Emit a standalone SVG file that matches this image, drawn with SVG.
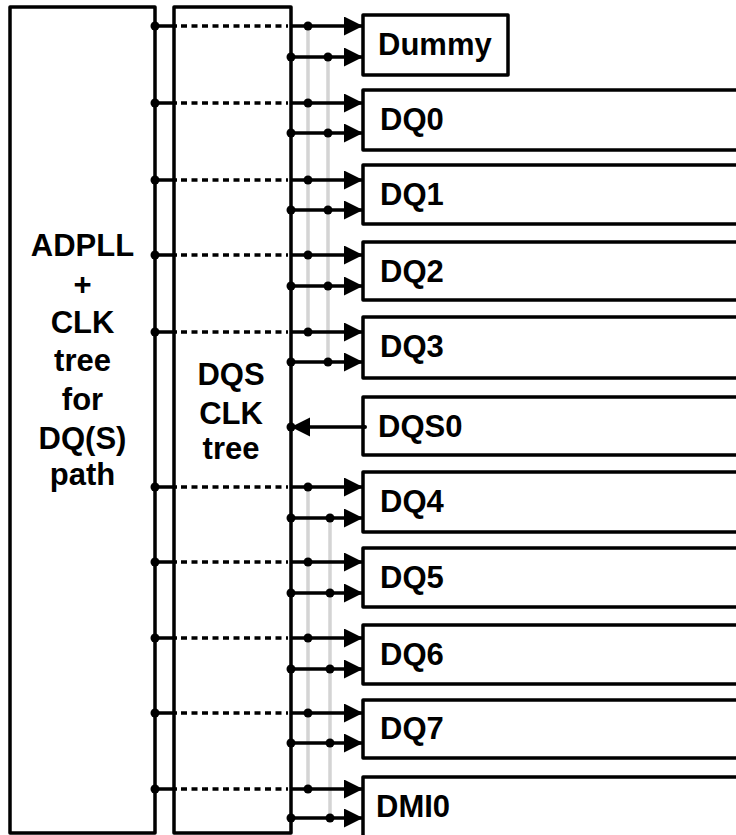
<svg xmlns="http://www.w3.org/2000/svg" width="736" height="835" viewBox="0 0 736 835">
<style>
.box{fill:#fff;stroke:#000;stroke-width:3.5;stroke-linejoin:round}
.t{font-family:"Liberation Sans",Arial,sans-serif;font-weight:bold;font-size:31px;fill:#000}
.c{text-anchor:middle}
.w{stroke:#000;stroke-width:3.5;fill:none}
.d{stroke:#000;stroke-width:3.5;fill:none;stroke-dasharray:6 4.5}
.g{stroke:#d4d4d4;stroke-width:3.5;fill:none}
.a{stroke:#000;stroke-width:3.5;fill:none;marker-end:url(#ah)}
.dot{fill:#000}
</style>
<defs>
<marker id="ah" markerUnits="userSpaceOnUse" markerWidth="22" markerHeight="22" refX="19" refY="9.5" orient="auto">
<path d="M0,0 L19,9.5 L0,19 Z" fill="#000"/>
</marker>
</defs>
<rect width="736" height="835" fill="#fff"/>

<g id="adpll">
<rect class="box" x="10" y="7" width="145" height="826"/>
<text class="t c" x="82.5" y="256">ADPLL</text>
<text class="t c" x="82.5" y="295">+</text>
<text class="t c" x="82.5" y="333">CLK</text>
<text class="t c" x="82.5" y="371">tree</text>
<text class="t c" x="82.5" y="410">for</text>
<text class="t c" x="82.5" y="449">DQ(S)</text>
<text class="t c" x="82.5" y="485">path</text>
</g>

<g id="dqsclk">
<rect class="box" x="174" y="7" width="117" height="826"/>
<text class="t c" x="231" y="385">DQS</text>
<text class="t c" x="231" y="424">CLK</text>
<text class="t c" x="231" y="459">tree</text>
</g>

<g id="dummy"><rect class="box" x="363" y="15" width="145" height="60"/><text class="t" x="378" y="55">Dummy</text></g>
<g id="dq0"><rect class="box" x="363" y="90" width="400" height="60"/><text class="t" x="380" y="130">DQ0</text></g>
<g id="dq1"><rect class="box" x="363" y="165" width="400" height="59"/><text class="t" x="380" y="205">DQ1</text></g>
<g id="dq2"><rect class="box" x="363" y="242" width="400" height="58"/><text class="t" x="380" y="282">DQ2</text></g>
<g id="dq3"><rect class="box" x="363" y="317" width="400" height="61"/><text class="t" x="380" y="357">DQ3</text></g>
<g id="dqs0"><rect class="box" x="363" y="397" width="400" height="58"/><text class="t" x="378" y="437">DQS0</text></g>
<g id="dq4"><rect class="box" x="363" y="472" width="400" height="60"/><text class="t" x="380" y="512">DQ4</text></g>
<g id="dq5"><rect class="box" x="363" y="548" width="400" height="59"/><text class="t" x="380" y="588">DQ5</text></g>
<g id="dq6"><rect class="box" x="363" y="625" width="400" height="59"/><text class="t" x="380" y="665">DQ6</text></g>
<g id="dq7"><rect class="box" x="363" y="700" width="400" height="58"/><text class="t" x="380" y="739">DQ7</text></g>
<g id="dmi0"><rect class="box" x="363" y="777" width="400" height="62"/><text class="t" x="376" y="817">DMI0</text></g>

<g id="connectors">
<path class="g" d="M308,26 V332 M328,57 V362 M308,487 V789 M330,518 V818"/>
<path class="w" d="M155,26 H177 M155,103 H177 M155,180 H177 M155,255 H177 M155,332 H177 M155,487 H177 M155,562 H177 M155,638 H177 M155,713 H177 M155,789 H177"/>
<path class="d" d="M181,26 H288 M181,103 H288 M181,180 H288 M181,255 H288 M181,332 H288 M181,487 H288 M181,562 H288 M181,638 H288 M181,713 H288 M181,789 H288"/>
<path class="a" d="M291,26 H363"/>
<path class="a" d="M291,103 H363"/>
<path class="a" d="M291,180 H363"/>
<path class="a" d="M291,255 H363"/>
<path class="a" d="M291,332 H363"/>
<path class="a" d="M291,487 H363"/>
<path class="a" d="M291,562 H363"/>
<path class="a" d="M291,638 H363"/>
<path class="a" d="M291,713 H363"/>
<path class="a" d="M291,789 H363"/>
<path class="a" d="M291,57 H363"/>
<path class="a" d="M291,133 H363"/>
<path class="a" d="M291,210 H363"/>
<path class="a" d="M291,286 H363"/>
<path class="a" d="M291,362 H363"/>
<path class="a" d="M291,518 H363"/>
<path class="a" d="M291,593 H363"/>
<path class="a" d="M291,669 H363"/>
<path class="a" d="M291,743 H363"/>
<path class="a" d="M291,818 H363"/>
<path class="a" d="M365,427 H291"/>
<circle class="dot" cx="365" cy="427" r="2"/>
<g class="dot">
<circle cx="155" cy="26" r="4.5"/><circle cx="155" cy="103" r="4.5"/><circle cx="155" cy="180" r="4.5"/><circle cx="155" cy="255" r="4.5"/><circle cx="155" cy="332" r="4.5"/>
<circle cx="155" cy="487" r="4.5"/><circle cx="155" cy="562" r="4.5"/><circle cx="155" cy="638" r="4.5"/><circle cx="155" cy="713" r="4.5"/><circle cx="155" cy="789" r="4.5"/>
<circle cx="308" cy="26" r="4.5"/><circle cx="308" cy="103" r="4.5"/><circle cx="308" cy="180" r="4.5"/><circle cx="308" cy="255" r="4.5"/><circle cx="308" cy="332" r="4.5"/>
<circle cx="308" cy="487" r="4.5"/><circle cx="308" cy="562" r="4.5"/><circle cx="308" cy="638" r="4.5"/><circle cx="308" cy="713" r="4.5"/><circle cx="308" cy="789" r="4.5"/>
<circle cx="291" cy="57" r="4.5"/><circle cx="291" cy="133" r="4.5"/><circle cx="291" cy="210" r="4.5"/><circle cx="291" cy="286" r="4.5"/><circle cx="291" cy="362" r="4.5"/>
<circle cx="291" cy="518" r="4.5"/><circle cx="291" cy="593" r="4.5"/><circle cx="291" cy="669" r="4.5"/><circle cx="291" cy="743" r="4.5"/><circle cx="291" cy="818" r="4.5"/>
<circle cx="328" cy="57" r="4.5"/><circle cx="328" cy="133" r="4.5"/><circle cx="328" cy="210" r="4.5"/><circle cx="328" cy="286" r="4.5"/><circle cx="328" cy="362" r="4.5"/>
<circle cx="330" cy="518" r="4.5"/><circle cx="330" cy="593" r="4.5"/><circle cx="330" cy="669" r="4.5"/><circle cx="330" cy="743" r="4.5"/><circle cx="330" cy="818" r="4.5"/>
<circle cx="291" cy="427" r="4.5"/>
</g>
</g>
</svg>
